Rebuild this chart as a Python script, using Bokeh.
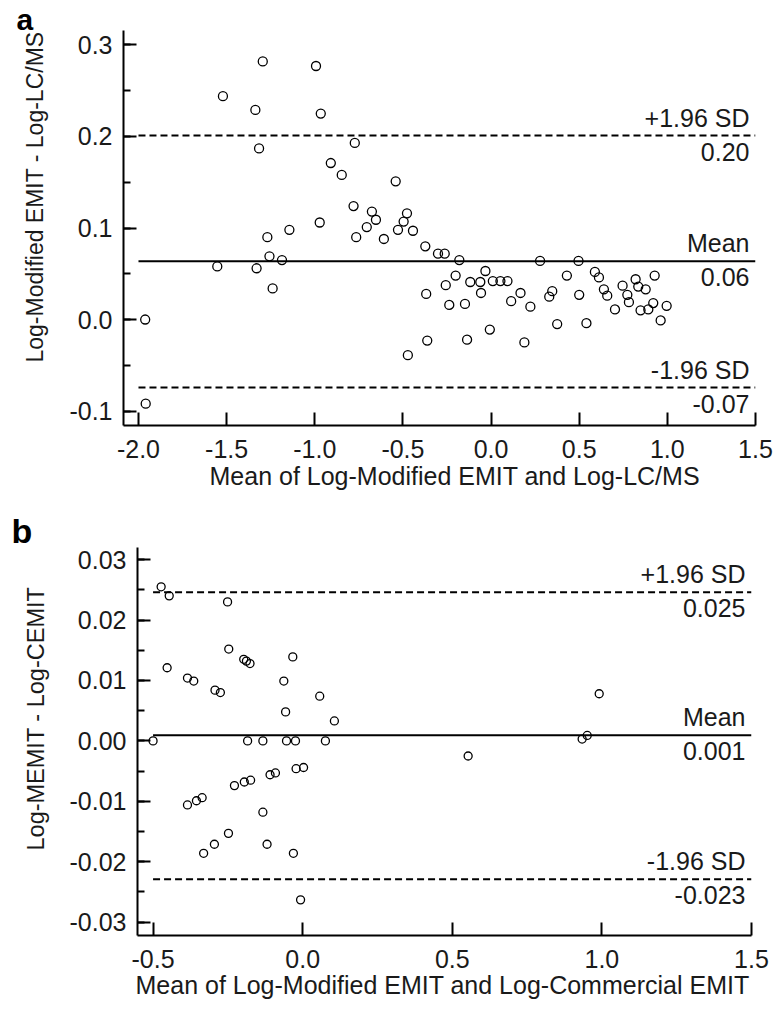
from bokeh.plotting import figure
from bokeh.models import FixedTicker, Label, Range1d, Title
from bokeh.layouts import column
from bokeh.embed import file_html
from bokeh.resources import INLINE

FONT = "Liberation Sans"

# ---------------- Panel a data ----------------
a_x = [-1.295, -0.993, -1.521, -1.337, -0.966, -1.316, -0.773, -0.909, -0.847, -0.541,
       -0.780, -0.676, -0.653, -0.477, -0.496, -0.972, -0.705, -1.144, -0.528, -0.443,
       -1.269, -0.765, -0.608, -0.373, -0.301, -0.263, -1.257, -1.186, -0.180, 0.278,
       0.496, -1.553, -1.330, -1.239, -0.368, -0.257, -0.201, -0.237, -0.148, -0.118,
       -0.061, -0.032, -0.057, 0.010, 0.053, 0.093, 0.114, 0.167, 0.223, 0.330,
       0.347, 0.430, 0.500, 0.375, 0.541, -0.007, 0.589, 0.612, 0.640, 0.659,
       0.703, 0.746, 0.773, 0.782, 0.820, 0.835, 0.877, 0.848, 0.892, 0.928,
       0.920, 0.962, 0.996, -0.362, -0.136, 0.189, -0.472, -1.962, -1.959]
a_y = [0.282, 0.277, 0.244, 0.229, 0.225, 0.187, 0.193, 0.171, 0.158, 0.151,
       0.124, 0.118, 0.109, 0.116, 0.107, 0.106, 0.101, 0.098, 0.098, 0.097,
       0.090, 0.090, 0.088, 0.080, 0.072, 0.072, 0.069, 0.065, 0.065, 0.064,
       0.064, 0.058, 0.056, 0.034, 0.028, 0.0375, 0.048, 0.016, 0.017, 0.041,
       0.041, 0.053, 0.029, 0.042, 0.042, 0.042, 0.020, 0.029, 0.014, 0.025,
       0.031, 0.048, 0.027, -0.005, -0.004, -0.011, 0.052, 0.046, 0.033, 0.026,
       0.011, 0.037, 0.027, 0.019, 0.044, 0.036, 0.033, 0.010, 0.011, 0.048,
       0.018, -0.001, 0.015, -0.023, -0.022, -0.025, -0.039, 0.000, -0.092]
a_lines = [0.201, 0.0637, -0.0743]
a_line_top_text = ["+1.96 SD", "Mean", "-1.96 SD"]
a_line_bottom_text = ["0.20", "0.06", "-0.07"]
a_xticks = [-2.0, -1.5, -1.0, -0.5, 0.0, 0.5, 1.0, 1.5]
a_xtick_labels = ["-2.0", "-1.5", "-1.0", "-0.5", "0.0", "0.5", "1.0", "1.5"]
a_yticks = [-0.1, 0.0, 0.1, 0.2, 0.3]
a_ytick_labels = ["-0.1", "0.0", "0.1", "0.2", "0.3"]
a_yminor = [-0.1, -0.05, 0.0, 0.05, 0.1, 0.15, 0.2, 0.25, 0.3]
a_xlabel = "Mean of Log-Modified EMIT and Log-LC/MS"
a_ylabel = "Log-Modified EMIT - Log-LC/MS"

# ---------------- Panel b data ----------------
b_x = [-0.473, -0.446, -0.251, -0.453, -0.247, -0.197, -0.188, -0.176, -0.033, -0.385,
       -0.364, -0.293, -0.275, -0.063, 0.057, -0.057, 0.106, -0.500, -0.184, -0.133,
       -0.054, -0.024, 0.076, -0.022, 0.003, -0.385, -0.355, -0.336, -0.228, -0.195,
       -0.174, -0.109, -0.091, -0.133, -0.248, -0.295, -0.331, -0.119, -0.031, -0.007,
       0.991, 0.934, 0.951, 0.553]
b_y = [0.0255, 0.0240, 0.0230, 0.0121, 0.0152, 0.0135, 0.0132, 0.0128, 0.0139, 0.0104,
       0.0099, 0.0084, 0.0080, 0.0099, 0.0074, 0.0048, 0.0033, 0.0, 0.0, 0.0,
       0.0, 0.0, 0.0, -0.0046, -0.0044, -0.0106, -0.0099, -0.0094, -0.0074, -0.0068,
       -0.0065, -0.0056, -0.0053, -0.0118, -0.0153, -0.0171, -0.0186, -0.0171, -0.0186, -0.0263,
       0.0078, 0.0003, 0.0009, -0.0025]
b_lines = [0.0246, 0.00094, -0.0229]
b_line_top_text = ["+1.96 SD", "Mean", "-1.96 SD"]
b_line_bottom_text = ["0.025", "0.001", "-0.023"]
b_xticks = [-0.5, 0.0, 0.5, 1.0, 1.5]
b_xtick_labels = ["-0.5", "0.0", "0.5", "1.0", "1.5"]
b_yticks = [-0.03, -0.02, -0.01, 0.0, 0.01, 0.02, 0.03]
b_ytick_labels = ["-0.03", "-0.02", "-0.01", "0.00", "0.01", "0.02", "0.03"]
b_yminor = [-0.03, -0.025, -0.02, -0.015, -0.01, -0.005, 0.0, 0.005, 0.01, 0.015, 0.02, 0.025, 0.03]
b_xlabel = "Mean of Log-Modified EMIT and Log-Commercial EMIT"
b_ylabel = "Log-MEMIT - Log-CEMIT"

TXT = "#1a1a1a"


def panel(letter, letter_size, letter_standoff, letter_dx, xs, ys, lines, top_txt, bot_txt,
          xticks, xlabels, yticks, ylabels, yminor, xlabel, ylabel, xr, yr, height,
          borders, msize, label_dx, xlab_offset, ylab_offset, xlab_standoff, ylab_standoff,
          ylab_size):
    left, right, top, bottom = borders
    p = figure(width=774, height=height, output_backend="svg", toolbar_location=None,
               x_range=Range1d(*xr), y_range=Range1d(*yr),
               min_border_left=left, min_border_right=right,
               min_border_top=top, min_border_bottom=bottom)
    p.frame_align = False
    p.outline_line_color = None
    p.grid.visible = False
    p.background_fill_color = "white"
    p.border_fill_color = "white"

    for ax in (p.xaxis[0], p.yaxis[0]):
        ax.axis_line_width = 2
        ax.axis_line_color = "black"
        ax.major_tick_line_width = 2
        ax.major_tick_line_color = "black"
        ax.minor_tick_line_width = 2
        ax.minor_tick_line_color = "black"
        ax.major_tick_in = 13
        ax.major_tick_out = 0
        ax.minor_tick_in = 7
        ax.minor_tick_out = 0
        ax.major_label_text_font = FONT
        ax.major_label_text_font_size = "25px"
        ax.major_label_text_color = TXT
        ax.axis_label = None

    p.xaxis[0].ticker = FixedTicker(ticks=xticks, minor_ticks=[])
    p.xaxis[0].major_label_overrides = {t: s for t, s in zip(xticks, xlabels)}
    p.xaxis[0].major_label_standoff = 14

    p.yaxis[0].ticker = FixedTicker(ticks=yticks, minor_ticks=yminor)
    p.yaxis[0].major_label_overrides = {t: s for t, s in zip(yticks, ylabels)}
    p.yaxis[0].major_label_standoff = 11

    # axis titles (side titles, shifted along the axis like the original)
    p.add_layout(Title(text=ylabel, align="left", offset=ylab_offset, standoff=ylab_standoff,
                       text_font=FONT, text_font_style="normal", text_font_size=ylab_size,
                       text_color=TXT), "left")
    p.add_layout(Title(text=xlabel, align="left", offset=xlab_offset, standoff=xlab_standoff,
                       text_font=FONT, text_font_style="normal", text_font_size="25px",
                       text_color=TXT), "below")

    x0, x1 = xticks[0], xticks[-1]
    dashes = ["7 4", None, "7 4"]
    for val, d in zip(lines, dashes):
        if d:
            p.line([x0, x1], [val, val], line_color="black", line_width=2, line_dash=d)
        else:
            p.line([x0, x1], [val, val], line_color="black", line_width=2)

    p.scatter(xs, ys, marker="circle", size=msize, fill_alpha=0,
              line_color="black", line_width=1.3)

    for val, t1, t2 in zip(lines, top_txt, bot_txt):
        p.add_layout(Label(x=x1, y=val, text=t1, x_offset=label_dx, y_offset=18,
                           text_align="right", text_baseline="middle",
                           text_font=FONT, text_font_size="25px", text_color=TXT))
        p.add_layout(Label(x=x1, y=val, text=t2, x_offset=label_dx, y_offset=-16,
                           text_align="right", text_baseline="middle",
                           text_font=FONT, text_font_size="25px", text_color=TXT))

    p.add_layout(Title(text=letter, align="left", offset=-left + letter_dx,
                       standoff=letter_standoff,
                       text_font=FONT, text_font_style="bold", text_font_size=letter_size,
                       text_color="black"), "above")
    return p


pa = panel("a", "30px", -11, 15, a_x, a_y, a_lines, a_line_top_text, a_line_bottom_text,
           a_xticks, a_xtick_labels, a_yticks, a_ytick_labels, a_yminor,
           a_xlabel, a_ylabel, (-2.085, 1.5), (-0.1158, 0.3158), 505,
           (122, 19, 30, 80), 9, -6, 86, 63, -2, 38, "23px")

pb = panel("b", "34px", -4, 11, b_x, b_y, b_lines, b_line_top_text, b_line_bottom_text,
           b_xticks, b_xtick_labels, b_yticks, b_ytick_labels, b_yminor,
           b_xlabel, b_ylabel, (-0.552, 1.5), (-0.0322, 0.0320), 506,
           (137, 23, 42, 76), 8, -6, -2, 85, -4, 36, "23.5px")

layout = column(pa, pb, spacing=0)
open("out.html", "w").write(file_html(layout, INLINE))
